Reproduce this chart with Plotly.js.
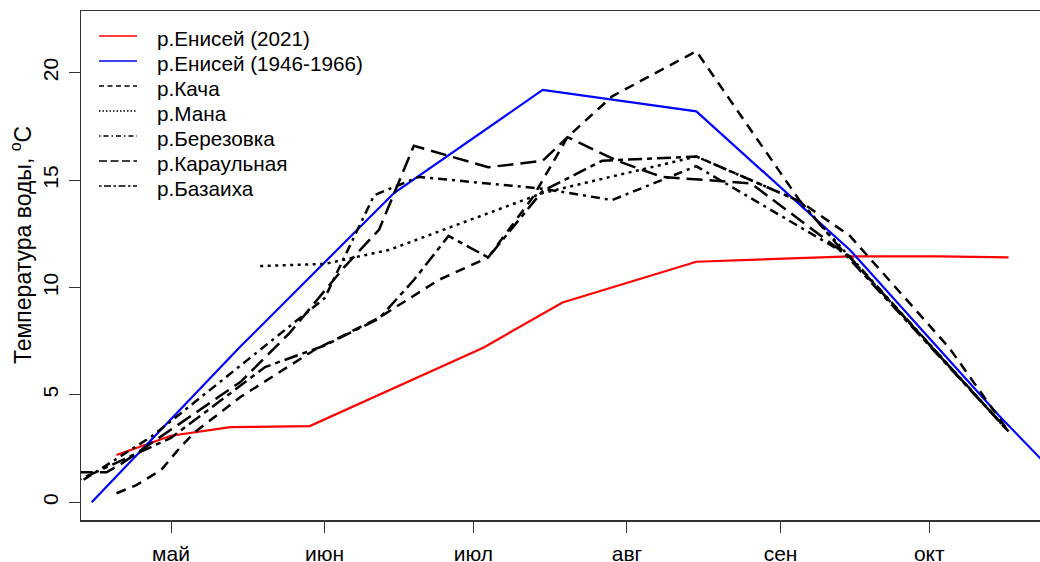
<!DOCTYPE html>
<html><head><meta charset="utf-8">
<script src="https://cdn.plot.ly/plotly-3.0.1.min.js"></script>
<style>html,body{margin:0;padding:0;overflow:hidden;background:#fff}#chart{width:1060px;height:562px}</style>
</head><body><div id="chart"></div>
<script>
const monthTicks = ["2021-05-01","2021-06-01","2021-07-01","2021-08-01","2021-09-01","2021-10-01"];
const monthLabels = ["май","июн","июл","авг","сен","окт"];
const yTicks = [0,5,10,15,20];

const yenisei2021Dates = ["2021-04-20","2021-05-01","2021-05-13","2021-05-29","2021-07-03","2021-07-19","2021-08-15","2021-09-15","2021-10-03","2021-10-17"];
const yenisei2021 = [2.2,3.1,3.5,3.55,7.2,9.3,11.2,11.45,11.45,11.4];

const yeniseiHistDates = ["2021-04-15","2021-05-15","2021-06-15","2021-07-15","2021-08-15","2021-09-15","2021-10-15","2021-11-01"];
const yeniseiHist = [0,7.25,14.4,19.2,18.2,11.75,4.05,0];

const kachaDates = ["2021-04-20","2021-04-24","2021-04-29","2021-05-03","2021-05-06","2021-05-15","2021-05-30","2021-06-12","2021-06-24","2021-07-04","2021-07-13","2021-07-20","2021-07-29","2021-08-15","2021-09-05","2021-09-15","2021-10-05","2021-10-17"];
const kacha = [0.42,0.8,1.5,2.6,3.3,4.9,7.1,8.6,10.35,11.4,14.2,17.0,18.9,21.0,14.0,12.4,7.2,3.3];

const manaDates = ["2021-05-19","2021-06-01","2021-06-14","2021-07-15","2021-08-15","2021-09-05","2021-09-15","2021-10-17"];
const mana = [11.0,11.1,11.75,14.4,16.1,14.0,11.4,3.3];

const berezovkaDates = ["2021-04-12","2021-04-27","2021-05-03","2021-05-13","2021-06-01","2021-06-11","2021-06-20","2021-07-15","2021-07-29","2021-08-15","2021-09-15","2021-10-17"];
const berezovka = [0.85,3.05,4.15,6.0,9.5,14.3,15.15,14.6,14.07,15.65,11.45,3.3];

const karaulnayaDates = ["2021-04-12","2021-04-18","2021-04-21","2021-05-01","2021-05-15","2021-05-25","2021-06-05","2021-06-12","2021-06-19","2021-07-04","2021-07-15","2021-07-20","2021-07-30","2021-08-08","2021-08-26","2021-09-15","2021-10-17"];
const karaulnaya = [1.4,1.4,1.8,3.4,5.6,7.9,10.96,12.7,16.6,15.6,15.9,17.0,15.9,15.15,14.85,11.4,3.3];

const bazaikhaDates = ["2021-04-12","2021-05-01","2021-05-20","2021-06-01","2021-06-12","2021-06-19","2021-06-26","2021-07-04","2021-07-15","2021-07-27","2021-08-15","2021-09-05","2021-09-15","2021-10-17"];
const bazaikha = [1.0,3.0,6.3,7.3,8.56,10.35,12.4,11.4,14.5,15.9,16.1,14.0,11.3,3.3];

const names = ["р.Енисей (2021)","р.Енисей (1946-1966)","р.Кача","р.Мана","р.Березовка","р.Караульная","р.Базаиха"];
const xs = [yenisei2021Dates,yeniseiHistDates,kachaDates,manaDates,berezovkaDates,karaulnayaDates,bazaikhaDates];
const ys = [yenisei2021,yeniseiHist,kacha,mana,berezovka,karaulnaya,bazaikha];
const colors = ["#ff0000","#0000ff","#000000","#000000","#000000","#000000","#000000"];
const widths = [2.2,2.2,2.5,2.5,2.5,2.5,2.5];
const plotDash = ["solid","solid","10px,7px","3px,4.5px","3px,5px,9px,5px","16px,7px","5px,5px,14px,5px"];
const legendDash = ["solid","solid","5px,3.5px","1.5px,2px","1.5px,3px,5px,3px","8px,3.5px","2.5px,2.5px,7px,2.5px"];

const traces = names.map((n,i)=>({
  type:"scatter", mode:"lines", x:xs[i], y:ys[i], name:n, showlegend:false,
  line:{color:colors[i], width:widths[i], dash:plotDash[i]}
}));

// pixel -> paper helpers for the plot area (81..1060 x, 11..520 y)
const PL=81, PW=979, PT=11, PH=509;
const px = v => (v-PL)/PW;
const py = v => (PT+PH-v)/PH;

const shapes = [], annotations = [];
names.forEach((n,i)=>{
  const yy = 36 + 25*i;
  shapes.push({type:"line", xref:"paper", yref:"paper", x0:px(99), x1:px(137), y0:py(yy), y1:py(yy),
    line:{color:colors[i], width:1.3, dash:legendDash[i]}});
  annotations.push({text:n, xref:"paper", yref:"paper", x:px(155), y:py(yy+2.5), xanchor:"left", yanchor:"middle",
    showarrow:false, font:{family:"Liberation Sans, Arial, sans-serif", size:20.7, color:"#000"}});
});
annotations.push({text:"Температура воды, <sup>o</sup>C", xref:"paper", yref:"paper", x:px(21), y:py(245),
  xanchor:"center", yanchor:"middle", textangle:-90, showarrow:false,
  font:{family:"Liberation Sans, Arial, sans-serif", size:23, color:"#000"}});

const tickFont = {family:"Liberation Sans, Arial, sans-serif", size:21, color:"#000"};
const layout = {
  width:1060, height:562,
  margin:{l:81, r:0, t:11, b:42},
  paper_bgcolor:"#fff", plot_bgcolor:"#fff",
  showlegend:false,
  xaxis:{type:"date", range:["2021-04-12 20:10","2021-10-27 09:07"], tickvals:monthTicks, ticktext:monthLabels,
    showgrid:false, zeroline:false, showline:true, mirror:true, linecolor:"#333", linewidth:1.5,
    ticks:"outside", ticklen:11, tickcolor:"#333", tickwidth:1, ticklabelstandoff:3, tickfont:tickFont},
  yaxis:{range:[-0.824,22.874], tickvals:yTicks, ticktext:yTicks.map(String), tickangle:-90,
    showgrid:false, zeroline:false, showline:true, mirror:true, linecolor:"#333", linewidth:1.5,
    ticks:"outside", ticklen:11, tickcolor:"#333", tickwidth:1, ticklabelstandoff:2, tickfont:tickFont},
  shapes:shapes,
  annotations:annotations
};
Plotly.newPlot("chart", traces, layout, {displayModeBar:false, staticPlot:true});
</script></body></html>
